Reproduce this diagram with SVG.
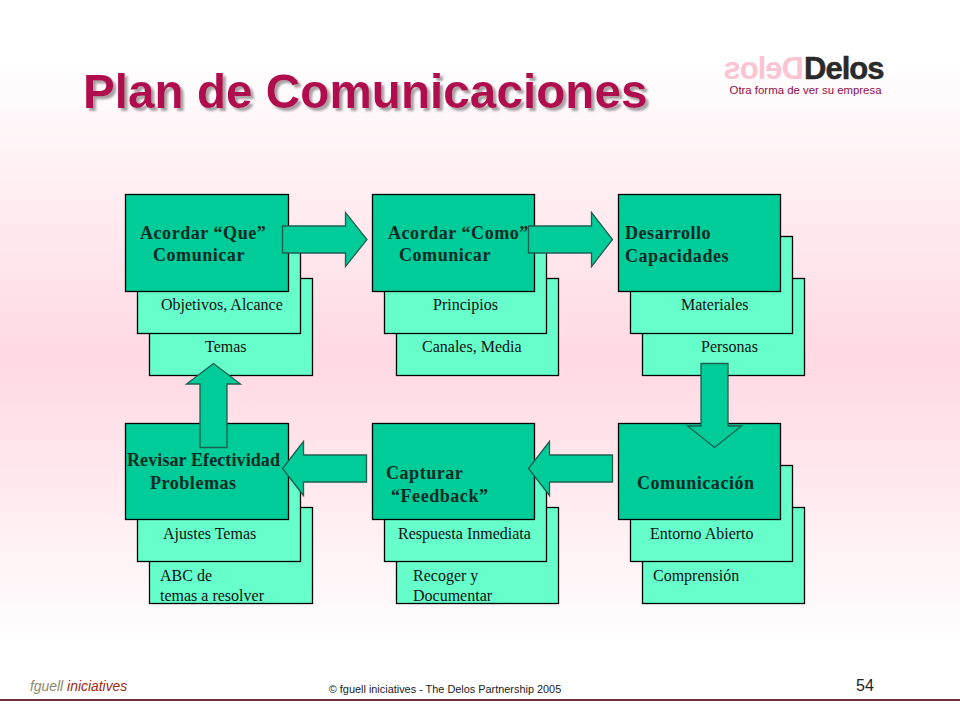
<svg xmlns="http://www.w3.org/2000/svg" width="960" height="720" viewBox="0 0 960 720">
<style>
.back{fill:#66ffcc;stroke:#000;stroke-width:1.3}
.front{fill:#00cc99;stroke:#000;stroke-width:1.3}
.arrow{fill:#00cc99;stroke:#1f5f50;stroke-width:1.3}
.h{font-family:"Liberation Serif",serif;font-weight:bold;font-size:18px;fill:#062b24;letter-spacing:.55px}
.tight{letter-spacing:.1px}
.s{font-family:"Liberation Serif",serif;font-size:16px;fill:#111}
.title{font-family:"Liberation Sans",sans-serif;font-weight:bold;font-size:47.7px}
.sans{font-family:"Liberation Sans",sans-serif}
</style>
<defs>
<linearGradient id="bg" x1="0" y1="0" x2="0" y2="1">
<stop offset="0" stop-color="#fff"/>
<stop offset=".08" stop-color="#fff"/>
<stop offset=".5" stop-color="#ffd9e3"/>
<stop offset=".9" stop-color="#fff"/>
<stop offset="1" stop-color="#fff"/>
</linearGradient>
<filter id="shadow" x="-5%" y="-20%" width="110%" height="140%">
<feDropShadow dx="3" dy="3" stdDeviation="0.8" flood-color="#a8a0a4"/>
</filter>
</defs>
<rect width="960" height="720" fill="url(#bg)"/>
<g id="title">
<text class="title" x="83" y="108" fill="#b0104f" filter="url(#shadow)">Plan de Comunicaciones</text>
</g>
<g id="logo" class="sans" font-weight="bold" font-size="31">
<text x="-804" y="79" transform="scale(-1,1)" fill="#fbc4d2" letter-spacing="-1">Delos</text>
<text x="804" y="79" fill="#2a2a2a" stroke="#2a2a2a" stroke-width=".5" letter-spacing="-1">Delos</text>
<text x="805.500" y="94" text-anchor="middle" font-size="11.400" font-weight="normal" fill="#8e0b45">Otra forma de ver su empresa</text>
</g>
<g id="node-que">
<rect class="back" x="149.500" y="278.500" width="163" height="97"/>
<rect class="back" x="137.500" y="236.500" width="163" height="97"/>
<rect class="front" x="125.500" y="194.500" width="163" height="97"/>
<text class="h" x="140" y="239">Acordar “Que”</text>
<text class="h" x="153" y="261">Comunicar</text>
<text class="s" x="161" y="310">Objetivos, Alcance</text>
<text class="s" x="205" y="352">Temas</text>
</g>
<g id="node-como">
<rect class="back" x="396.500" y="278.500" width="162" height="97"/>
<rect class="back" x="384.500" y="236.500" width="162" height="97"/>
<rect class="front" x="372.500" y="194.500" width="162" height="97"/>
<text class="h" x="388" y="239">Acordar “Como”</text>
<text class="h" x="399" y="261">Comunicar</text>
<text class="s" x="433" y="310">Principios</text>
<text class="s" x="422" y="352">Canales, Media</text>
</g>
<g id="node-capacidades">
<rect class="back" x="642.500" y="278.500" width="162" height="97"/>
<rect class="back" x="630.500" y="236.500" width="162" height="97"/>
<rect class="front" x="618.500" y="194.500" width="162" height="97"/>
<text class="h" x="625" y="239">Desarrollo</text>
<text class="h" x="625" y="262">Capacidades</text>
<text class="s" x="681" y="310">Materiales</text>
<text class="s" x="701" y="352">Personas</text>
</g>
<g id="node-revisar">
<rect class="back" x="149.500" y="507.500" width="163" height="96"/>
<rect class="back" x="137.500" y="465.500" width="163" height="96"/>
<rect class="front" x="125.500" y="423.500" width="163" height="96"/>
<text class="h tight" x="127" y="466">Revisar Efectividad</text>
<text class="h" x="150" y="489">Problemas</text>
<text class="s" x="163" y="539">Ajustes Temas</text>
<text class="s" x="160" y="581">ABC de</text>
<text class="s" x="160" y="601">temas a resolver</text>
</g>
<g id="node-feedback">
<rect class="back" x="396.500" y="507.500" width="162" height="96"/>
<rect class="back" x="384.500" y="465.500" width="162" height="96"/>
<rect class="front" x="372.500" y="423.500" width="162" height="96"/>
<text class="h" x="386" y="479">Capturar</text>
<text class="h" x="391" y="502">“Feedback”</text>
<text class="s" x="398" y="539">Respuesta Inmediata</text>
<text class="s" x="413" y="581">Recoger y</text>
<text class="s" x="413" y="601">Documentar</text>
</g>
<g id="node-comunicacion">
<rect class="back" x="642.500" y="507.500" width="162" height="96"/>
<rect class="back" x="630.500" y="465.500" width="162" height="96"/>
<rect class="front" x="618.500" y="423.500" width="162" height="96"/>
<text class="h" x="637" y="489">Comunicación</text>
<text class="s" x="650" y="539">Entorno Abierto</text>
<text class="s" x="653" y="581">Comprensión</text>
</g>
<g id="connectors">
<path class="arrow" d="M282.500 226H345.500V212.500L367 239.500 345.500 266.500V253H282.500Z"/>
<path class="arrow" d="M528.500 226H591.500V212.500L612.500 239.500 591.500 266.500V253H528.500Z"/>
<path class="arrow" d="M701 363.500H728V426H741.500L714.500 447.500 687.500 426H701Z"/>
<path class="arrow" d="M612.500 455H549.500V441.500L528.500 468.500 549.500 495.500V482H612.500Z"/>
<path class="arrow" d="M366.500 455H303.500V441.500L282.500 468.500 303.500 495.500V482H366.500Z"/>
<path class="arrow" d="M200 447.500H227V384H240.500L213.500 363.500 186.500 384H200Z"/>
</g>
<g id="footer" class="sans">
<text x="30" y="691" font-size="13.900" font-style="italic" fill="#8a8a6a">fguell <tspan fill="#a02a10">iniciatives</tspan></text>
<text x="445" y="693" font-size="10.900" text-anchor="middle" fill="#222">© fguell iniciatives - The Delos Partnership 2005</text>
<text x="865" y="691" font-size="16" text-anchor="middle" fill="#222">54</text>
<rect x="0" y="699" width="960" height="2" fill="#7a2e3c"/>
</g>
</svg>
